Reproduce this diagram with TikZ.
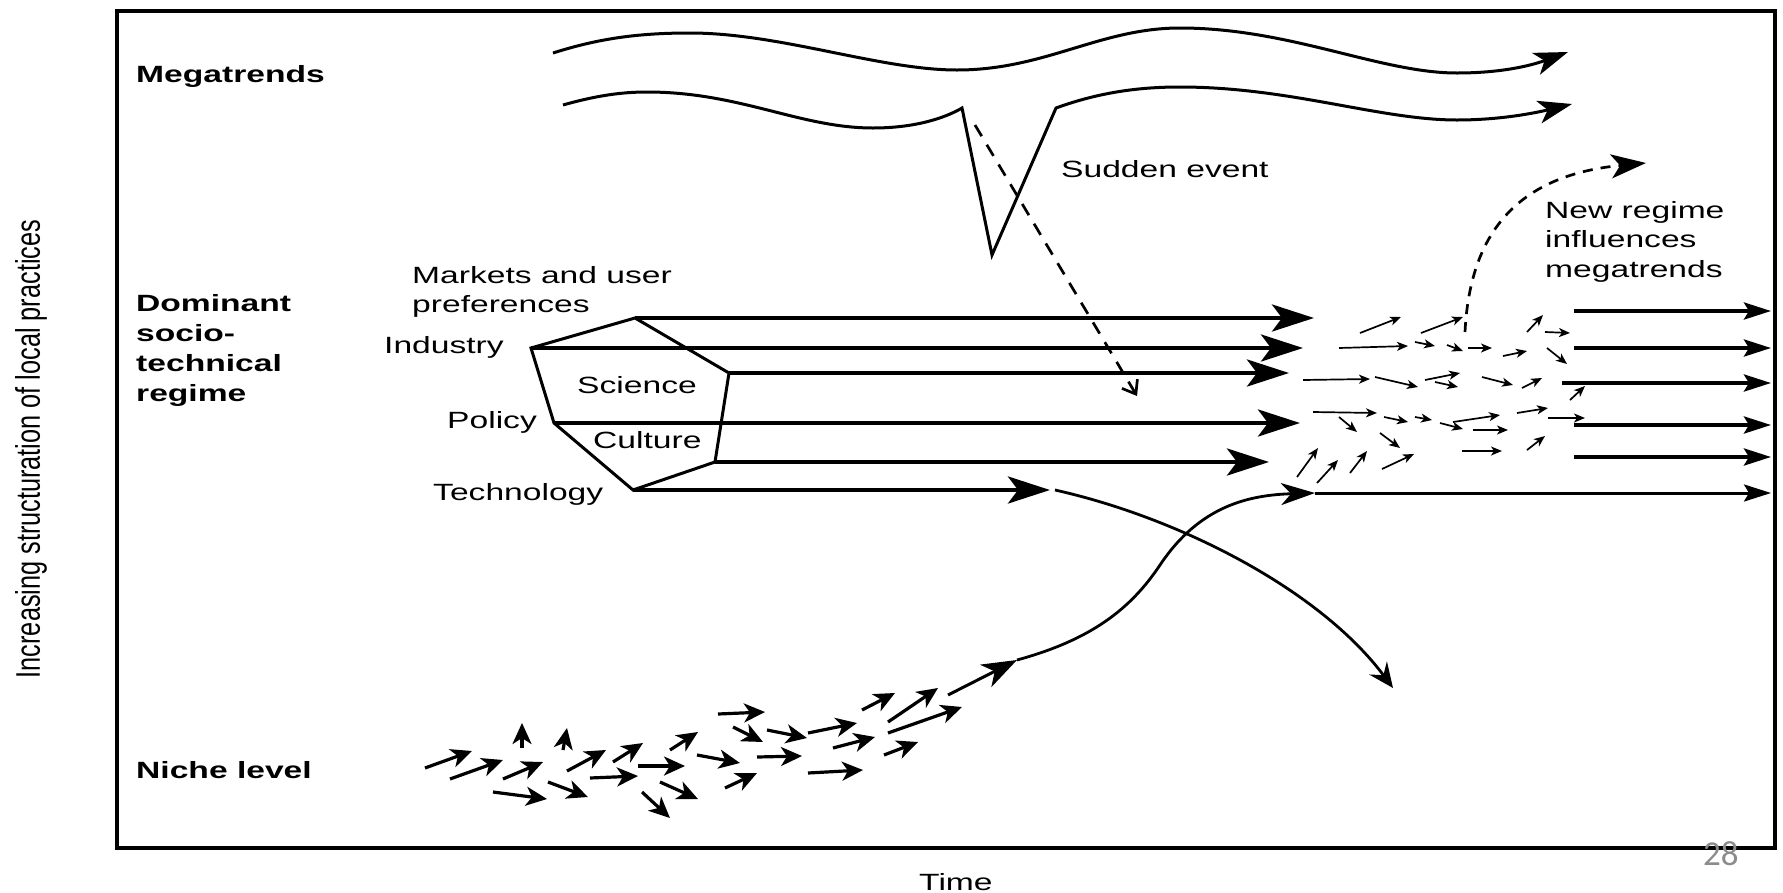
\documentclass[tikz,border=0pt]{standalone}
\usepackage{graphicx}
\usepackage{fontspec}
\setmainfont{Liberation Sans}
\newfontfamily\figfont[FakeStretch=1.43]{Liberation Sans}
\newfontfamily\vfont{Liberation Sans}
\newfontfamily\pgnumfont{Carlito}
\usetikzlibrary{arrows.meta}
\definecolor{pagegray}{RGB}{140,140,140}
\tikzset{
  lbl/.style={inner sep=0pt, text=black, font={\figfont\fontsize{23.5}{29.5}\selectfont}},
  blbl/.style={inner sep=0pt, text=black, font={\figfont\bfseries\fontsize{23.5}{30}\selectfont}},
  frameline/.style={line width=3.5pt},
  wave/.style={line width=3pt, line join=miter, miter limit=20},
  wavehead/.style={-{Stealth[length=34pt,width=23pt,inset=9pt]}},
  poly/.style={line width=3pt, line join=miter},
  regline/.style={line width=4.5pt, -{Stealth[length=42pt,width=27pt,inset=10pt]}},
  newline/.style={line width=4pt, -{Stealth[length=27pt,width=17pt,inset=5pt]}},
  nicheline/.style={line width=3.2pt, -{Stealth[length=21pt,width=19pt,inset=6pt]}},
  tinyarrow/.style={line width=1.7pt, -{Stealth[length=11pt,width=9pt,inset=3pt]}},
  curveline/.style={line width=2.8pt},
  dashV/.style={line width=2.7pt, dash pattern=on 13pt off 10pt},
  dashC/.style={line width=2.7pt, dash pattern=on 10pt off 8pt}
}
\begin{document}
\begin{tikzpicture}[x=1pt,y=-1pt]
\path[use as bounding box] (0,0) rectangle (1783,892);

% frame
\draw[frameline] (117,11) rectangle (1775,848);

% axis labels
\node[rotate=90, inner sep=0pt, font={\vfont\fontsize{25.3}{30}\selectfont}] (ylabel) at (31,449)
  {\scalebox{1}[1.35]{Increasing structuration of local practices}};
\node[lbl, anchor=base west] (time) at (919,890) {Time};
\node[inner sep=0pt, anchor=base west, text=pagegray, font={\pgnumfont\fontsize{35}{40}\selectfont}] (pagenum) at (1703,865) {28};

% level labels
\node[blbl, anchor=base west] (mega) at (136,82) {Megatrends};
\node[blbl, anchor=north west, align=left] (regime) at (136,294) {Dominant\\socio-\\technical\\regime};
\node[blbl, anchor=base west] (niche) at (136,778) {Niche level};

% megatrend waves
\coordinate (u0) at (553,53);
\coordinate (u5) at (1568,52);
\draw[wave, wavehead] (u0) .. controls (600,38) and (640,33) .. (690,33)
  .. controls (780,33) and (880,70) .. (957,70)
  .. controls (1045,70) and (1100,28) .. (1180,28)
  .. controls (1290,28) and (1380,73) .. (1457,73)
  .. controls (1500,73) and (1530,66) .. (u5);

\coordinate (l0) at (563,105);
\coordinate (vL) at (962,108);
\coordinate (vB) at (992,255);
\coordinate (vR) at (1056,108);
\coordinate (l5) at (1572,104);
\draw[wave, wavehead] (l0) .. controls (595,96) and (620,92) .. (647,92)
  .. controls (740,92) and (800,128) .. (873,128)
  .. controls (915,128) and (945,118) .. (vL)
  -- (vB) -- (vR)
  .. controls (1100,92) and (1140,87) .. (1180,87)
  .. controls (1290,87) and (1380,120) .. (1457,120)
  .. controls (1500,120) and (1535,113) .. (l5);

\node[lbl, anchor=base west] (sudden) at (1061,177) {Sudden event};

% dashed arrow from sudden event into regime
\coordinate (dS) at (975,125);
\coordinate (dE) at (1137,396);
\draw[dashV, -{Straight Barb[length=12pt,width=18pt]}] (dS) -- (dE);

% regime polygon
\coordinate (pA) at (635,318);
\coordinate (pB) at (531,348);
\coordinate (pC) at (729,373);
\coordinate (pD) at (554,423);
\coordinate (pE) at (715,462);
\coordinate (pF) at (633,490);
\draw[poly] (pA) -- (pB) -- (pD) -- (pF) -- (pE) -- (pC) -- cycle;

\coordinate (eA) at (1314,318);
\coordinate (eB) at (1303,348);
\coordinate (eC) at (1289,373);
\coordinate (eD) at (1300,423);
\coordinate (eE) at (1269,462);
\coordinate (eF) at (1050,490);
\draw[regline] (pA) -- (eA);
\draw[regline] (pB) -- (eB);
\draw[regline] (pC) -- (eC);
\draw[regline] (pD) -- (eD);
\draw[regline] (pE) -- (eE);
\draw[regline] (pF) -- (eF);

\node[lbl, anchor=north west, align=left] (markets) at (412,266) {Markets and user\\preferences};
\node[lbl, anchor=base west] (industry) at (384,353) {Industry};
\node[lbl, anchor=base west] (science) at (577,393) {Science};
\node[lbl, anchor=base west] (policy) at (447,428) {Policy};
\node[lbl, anchor=base west] (culture) at (593,448) {Culture};
\node[lbl, anchor=base west] (technology) at (433,500) {Technology};

% technology leaves the regime
\coordinate (tS) at (1055,490);
\coordinate (tE) at (1393,688);
\draw[curveline, -{Stealth[length=25pt,width=22pt,inset=9pt]}] (tS) .. controls (1180,518) and (1320,590) .. (tE);

% niche breakthrough
\coordinate (nA) at (948,695);
\coordinate (nB) at (1017,660);
\coordinate (nC) at (1315,493);
\draw[line width=3pt, -{Stealth[length=35pt,width=25pt,inset=10pt]}] (nA) -- (nB);
\draw[curveline, -{Stealth[length=34pt,width=22pt,inset=10pt]}] (nB) .. controls (1090,640) and (1130,610) .. (1160,565)
  .. controls (1200,505) and (1250,495) .. (nC);

% new regime lines
\coordinate (r1s) at (1574,311); \coordinate (r1e) at (1771,311);
\coordinate (r2s) at (1574,348); \coordinate (r2e) at (1771,348);
\coordinate (r3s) at (1562,383); \coordinate (r3e) at (1771,383);
\coordinate (r4s) at (1574,425); \coordinate (r4e) at (1771,425);
\coordinate (r5s) at (1574,457); \coordinate (r5e) at (1771,457);
\coordinate (r6e) at (1771,493);
\draw[newline] (r1s) -- (r1e);
\draw[newline] (r2s) -- (r2e);
\draw[newline] (r3s) -- (r3e);
\draw[newline] (r4s) -- (r4e);
\draw[newline] (r5s) -- (r5e);
\draw[line width=3pt, -{Stealth[length=27pt,width=17pt,inset=5pt]}] (nC) -- (r6e);

% new regime influences megatrends
\coordinate (mS) at (1465,332);
\coordinate (mE) at (1646,163);
\draw[dashC, -{Stealth[length=35pt,width=24pt,inset=9pt]}] (mS) .. controls (1470,230) and (1520,175) .. (mE);
\node[lbl, anchor=north west, align=left] (newreg) at (1545,201) {New regime\\influences\\megatrends};

% niche level small arrows
\foreach \ax/\ay/\bx/\by [count=\i] in {
  425/768/472/751, 450/779/503/760, 522/748/522/723, 503/779/543/762,
  493/792/547/799, 563/750/567/728, 567/771/606/750, 548/782/588/797,
  613/762/643/743, 590/778/638/776, 638/766/685/766, 670/750/698/732,
  660/782/698/799, 642/792/670/818, 718/714/765/712, 697/755/740/763,
  725/788/757/773, 733/727/763/742, 757/757/802/756, 767/730/807/738,
  808/733/857/723, 833/748/875/737, 808/773/863/770, 862/710/895/693,
  884/755/918/742, 888/722/938/688, 888/733/962/707}{
  \coordinate (na\i) at (\ax,\ay);
  \coordinate (nb\i) at (\bx,\by);
  \draw[nicheline] (na\i) -- (nb\i);
}

% regime-shift cluster of small arrows
\foreach \ax/\ay/\bx/\by [count=\i] in {
  1360/333/1401/317, 1421/333/1463/317, 1339/348/1408/346, 1415/342/1435/346,
  1447/345/1463/351, 1468/348/1492/348, 1503/356/1527/351, 1527/332/1543/315,
  1545/332/1570/333, 1547/348/1567/364, 1303/380/1370/379, 1375/377/1418/387,
  1425/380/1460/373, 1435/382/1458/387, 1482/377/1513/385, 1522/388/1542/378,
  1570/400/1585/386, 1313/412/1377/413, 1339/417/1357/432, 1384/417/1408/422,
  1415/417/1432/420, 1440/423/1463/429, 1453/422/1500/415, 1473/430/1508/430,
  1517/413/1548/408, 1548/418/1585/418, 1380/433/1400/448, 1462/451/1502/451,
  1527/450/1545/436, 1297/477/1318/448, 1317/483/1338/460, 1350/473/1367/451,
  1382/469/1414/454}{
  \coordinate (ca\i) at (\ax,\ay);
  \coordinate (cb\i) at (\bx,\by);
  \draw[tinyarrow] (ca\i) -- (cb\i);
}
\end{tikzpicture}
\end{document}
